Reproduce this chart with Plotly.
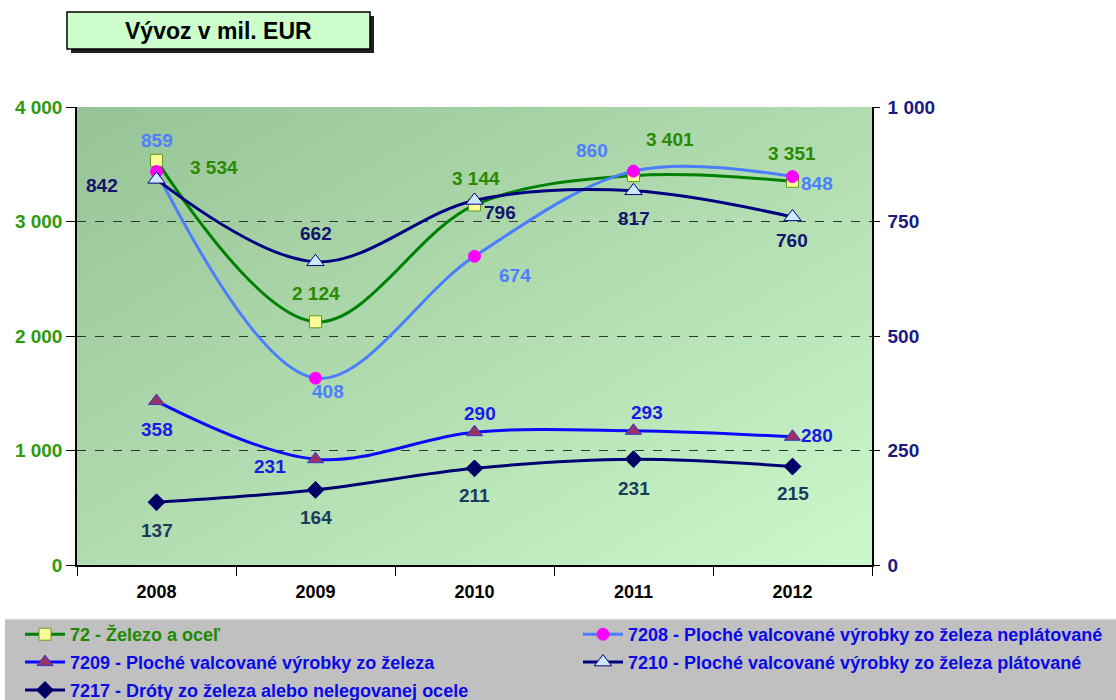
import base64
import plotly.graph_objects as go

# ---------------- data ----------------
years = ["2008", "2009", "2010", "2011", "2012"]
s72 = [3534, 2124, 3144, 3401, 3351]      # left axis
s7208 = [859, 408, 674, 860, 848]         # right axis
s7209 = [358, 231, 290, 293, 280]         # right axis
s7210 = [842, 662, 796, 817, 760]         # right axis
s7217 = [137, 164, 211, 231, 215]         # right axis
left_ticks = [0, 1000, 2000, 3000, 4000]
right_ticks = [0, 250, 500, 750, 1000]
grid_vals = [1000, 2000, 3000]
title_text = "Vývoz v mil. EUR"
names = {
    "72": "72 - Železo a oceľ",
    "7208": "7208 - Ploché valcované výrobky zo železa neplátované",
    "7209": "7209 - Ploché valcované výrobky zo železa",
    "7210": "7210 - Ploché valcované výrobky zo železa plátované",
    "7217": "7217 - Dróty zo železa alebo nelegovanej ocele",
}

# ---------------- geometry (pixels) ----------------
W, H = 1116, 700
L, R, T, B = 77, 872, 107, 565
FONT = "Arial, Liberation Sans, sans-serif"


def px2x(px):
    return (px - L) / (R - L)


def py2y(py):
    return (B - py) / (B - T)


def fmt(v):
    return f"{v:,}".replace(",", " ")


xs = list(range(len(years)))

fig = go.Figure()

series = [
    # key, values, axis, line color, marker symbol, marker fill, marker border, size, label color, legend, label offsets
    ("72", s72, "y", "#008000", "square", "#FFFF99", "#5E9C1A", 12, "#2B8A00", "legend",
     [(57, -7), (0, 28), (1, 27), (36, 36), (-1, 28)]),
    ("7208", s7208, "y2", "#4A7DFF", "circle", "#FF00FF", "#FF00FF", 12, "#4D7FFF", "legend2",
     [(0, 31), (12, -13), (40, -19), (-42, 21), (24, -7)]),
    ("7209", s7209, "y2", "#0A0AFF", "triangle-up", "#993366", "#3333CC", 14, "#1A1AE6", "legend",
     [(0, -28), (-46, -7), (5, 19), (13, 18), (24, 1)]),
    ("7210", s7210, "y2", "#000080", "triangle-up", "#CCE8FF", "#000080", 15, "#14146E", "legend2",
     [(-55, -6), (0, 28), (25, -12), (0, -28), (-1, -24)]),
    ("7217", s7217, "y2", "#000070", "diamond", "#000066", "#000066", 13, "#1B3B5C", "legend",
     [(0, -28), (0, -28), (0, -27), (0, -29), (0, -27)]),
]

legend_text_colors = {"72": "#1E8A00", "7208": "#0A0AE6", "7209": "#0A0AE6", "7210": "#0A0AE6", "7217": "#0A0AE6"}

annotations = []
for key, vals, yax, lc, sym, mfill, mline, msize, labc, leg, offs in series:
    fig.add_trace(go.Scatter(
        x=xs, y=vals, yaxis=yax, mode="lines+markers",
        name=f"<span style='color:{legend_text_colors[key]}'>{names[key]}</span>",
        line=dict(color=lc, width=3, shape="spline", smoothing=1.0),
        marker=dict(symbol=sym, size=msize, color=mfill, line=dict(color=mline, width=1)),
        legend=leg, legendgroup=key, hoverinfo="skip",
    ))
    for i, v in enumerate(vals):
        dx, dy = offs[i]
        annotations.append(dict(
            x=xs[i], y=v, xref="x", yref=yax, text=fmt(v), showarrow=False,
            xshift=dx, yshift=dy,
            font=dict(family=FONT, size=19, color=labc, weight="bold"),
        ))

# title box
annotations.append(dict(
    x=px2x((67 + 370) / 2), y=py2y(31), xref="paper", yref="paper",
    text=title_text, showarrow=False, xanchor="center", yanchor="middle",
    font=dict(family=FONT, size=23, color="black", weight="bold"),
))

# gradient background as an svg image
svg = ("<svg xmlns='http://www.w3.org/2000/svg' width='795' height='458' preserveAspectRatio='none'>"
       "<defs><linearGradient id='g' x1='0' y1='0' x2='1' y2='1'>"
       "<stop offset='0' stop-color='#97C497'/>"
       "<stop offset='0.5' stop-color='#B0DCB0'/>"
       "<stop offset='1' stop-color='#CBF9CB'/>"
       "</linearGradient></defs>"
       "<rect x='0' y='0' width='795' height='458' fill='url(#g)'/></svg>")
svg_uri = "data:image/svg+xml;base64," + base64.b64encode(svg.encode()).decode()

shapes = [
    # legend grey band
    dict(type="rect", xref="paper", yref="paper",
         x0=px2x(5), x1=px2x(1116), y0=py2y(700), y1=py2y(619),
         fillcolor="#C0C0C0", line=dict(width=0), layer="below"),
    dict(type="line", xref="paper", yref="paper",
         x0=px2x(5), x1=px2x(1116), y0=py2y(619), y1=py2y(619),
         line=dict(color="#E8E8E8", width=1), layer="below"),
    # title shadow and box
    dict(type="rect", xref="paper", yref="paper",
         x0=px2x(71), x1=px2x(374), y0=py2y(53), y1=py2y(16),
         fillcolor="#202020", line=dict(width=0)),
    dict(type="rect", xref="paper", yref="paper",
         x0=px2x(67), x1=px2x(370), y0=py2y(49), y1=py2y(12),
         fillcolor="#CCFFCC", line=dict(color="black", width=1.5)),
]

fig.update_layout(
    width=W, height=H,
    margin=dict(l=L, r=W - R, t=T, b=H - B, pad=0, autoexpand=False),
    paper_bgcolor="white",
    plot_bgcolor="rgba(0,0,0,0)",
    separators=", ",
    font=dict(family=FONT),
    showlegend=True,
    images=[dict(source=svg_uri, xref="paper", yref="paper", x=0, y=1,
                 sizex=1, sizey=1, xanchor="left", yanchor="top",
                 sizing="stretch", layer="below")],
    shapes=shapes,
    annotations=annotations,
    xaxis=dict(
        range=[-0.5, len(years) - 0.5], tickmode="array", tickvals=xs, ticktext=years,
        ticks="", showgrid=False, zeroline=False,
        showline=True, linecolor="black", linewidth=1.5,
        tickfont=dict(family=FONT, size=18, color="black", weight="bold"),
        ticklabelstandoff=10,
        minor=dict(tick0=0.5, dtick=1, ticks="outside", ticklen=9, tickcolor="black",
                   tickwidth=1, showgrid=False),
    ),
    yaxis=dict(
        range=[0, 4000], tickmode="array", tickvals=left_ticks, tickformat=",d",
        ticks="outside", ticklen=9, tickcolor="black", tickwidth=1,
        showline=True, linecolor="black", linewidth=1.5,
        showgrid=False, zeroline=False,
        tickfont=dict(family=FONT, size=19, color="#2E9A0C", weight="bold"),
        minor=dict(tickmode="array", tickvals=grid_vals, showgrid=True, ticks="",
                   gridcolor="#333333", griddash="dash", gridwidth=1),
    ),
    yaxis2=dict(
        range=[0, 1000], tickmode="array", tickvals=right_ticks, tickformat=",d",
        overlaying="y", side="right", anchor="x",
        ticks="outside", ticklen=6, tickcolor="black", tickwidth=1,
        showline=True, linecolor="black", linewidth=1.5,
        showgrid=False, zeroline=False, ticklabelstandoff=4,
        tickfont=dict(family=FONT, size=19, color="#1A1A80", weight="bold"),
    ),
    legend=dict(
        x=px2x(20), y=py2y(616), xanchor="left", yanchor="top",
        orientation="v", bgcolor="rgba(0,0,0,0)", tracegroupgap=1.5,
        font=dict(family=FONT, size=18, weight="bold"),
        itemwidth=40,
    ),
    legend2=dict(
        x=px2x(578), y=py2y(616), xanchor="left", yanchor="top",
        orientation="v", bgcolor="rgba(0,0,0,0)", tracegroupgap=1.5,
        font=dict(family=FONT, size=18, weight="bold"),
        itemwidth=40,
    ),
)

fig.write_html("out.html", config={"displayModeBar": False},
               post_script="document.body.style.margin='0px';")
